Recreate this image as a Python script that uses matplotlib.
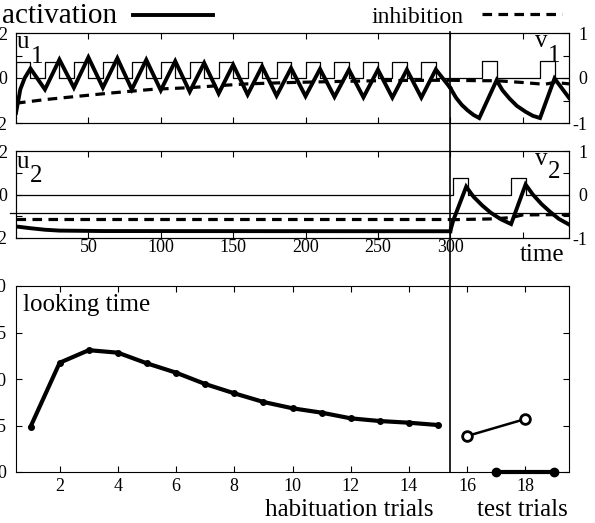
import matplotlib
matplotlib.use('Agg')
import matplotlib.pyplot as plt
from matplotlib.lines import Line2D

plt.rcParams['font.family'] = ['Liberation Serif', 'DejaVu Serif']
plt.rcParams['axes.unicode_minus'] = False

W, H = 595, 523

# ---- field 1: u1 during habituation (left scale), v1 during test (right scale)
stim1_on = [0, 20, 40, 60, 80, 100, 120, 140, 160, 180, 200, 220, 240, 260, 280]
stim1_test_on = [322, 362]
u1_t = [0, 3, 6, 10, 20, 30, 40, 50, 60, 70, 80, 90, 100, 110, 120, 130, 140,
        150, 160, 170, 180, 190, 200, 210, 220, 230, 240, 250, 260, 270, 280, 290, 300]
u1_v = [-1.55, -0.5, 0.0, 0.42, -0.51, 0.82, -0.43, 0.92, -0.43, 0.88, -0.51, 0.81,
        -0.55, 0.75, -0.61, 0.67, -0.69, 0.59, -0.74, 0.52, -0.79, 0.44, -0.81, 0.40,
        -0.84, 0.37, -0.86, 0.37, -0.87, 0.37, -0.87, 0.38, -0.44]
inh1_t = [0, 20, 40, 65, 95, 120, 140, 160, 190, 225, 260, 300]
inh1_v = [-1.12, -0.96, -0.83, -0.67, -0.50, -0.43, -0.34, -0.26, -0.20, -0.15, -0.11, -0.10]
v1_t = [300, 304, 308, 312, 316, 320, 332, 336, 341, 346, 352, 357, 362, 372, 382]
v1_v = [-0.22, -0.44, -0.60, -0.72, -0.82, -0.89, -0.05, -0.27, -0.46, -0.62,
        -0.75, -0.84, -0.89, -0.01, -0.44]
inhv1_t = [300, 320, 332, 350, 365, 372, 382]
inhv1_v = [-0.05, -0.06, -0.06, -0.10, -0.14, -0.10, -0.13]

# ---- field 2: u2 during habituation, v2 during test
u2_t = [0, 10, 20, 30, 60, 300]
u2_v = [-1.47, -1.55, -1.62, -1.66, -1.68, -1.69]
inh2_t = [0, 300]
inh2_v = [-1.14, -1.14]
stim2_test_on = [302, 342]
v2_t = [300, 302, 311, 316, 322, 328, 335, 342, 352, 357, 363, 369, 375, 382]
v2_v = [-0.84, -0.60, 0.18, -0.05, -0.25, -0.42, -0.57, -0.68, 0.23, 0.0, -0.22,
        -0.40, -0.56, -0.69]
inhv2_t = [300, 330, 342, 350, 382]
inhv2_v = [-0.58, -0.56, -0.53, -0.47, -0.46]

stim_len = 10
stim_left = 0.72
stim_right = 0.37

# ---- looking time
hab_trials = [1, 2, 3, 4, 5, 6, 7, 8, 9, 10, 11, 12, 13, 14, 15]
hab_look = [4.87, 11.75, 13.1, 12.83, 11.68, 10.68, 9.46, 8.46, 7.53, 6.85,
            6.38, 5.77, 5.48, 5.3, 5.05]
test_open_trials = [16, 18]
test_open_look = [3.87, 5.7]
test_fill_trials = [17, 19]
test_fill_look = [0, 0]


def pulses(onsets, length, level, t0, t1):
    t, v = [t0], [0]
    for s in onsets:
        t += [s, s, s + length, s + length]
        v += [0, level, level, 0]
    t.append(t1)
    v.append(0)
    return t, v


def box(top, bottom):
    return [16 / W, 1 - bottom / H, 553 / W, (bottom - top) / H]


def px(x, y):
    return x / W, 1 - y / H


fig = plt.figure(figsize=(W / 100, H / 100), dpi=100)

tick_kw = dict(direction='in', length=4, width=0.8, labelsize=13, colors='black')
time_ticks = [50, 100, 150, 200, 250, 300, 350]

axes_top = []
for top, bottom in [(33, 123), (151, 238)]:
    ax = fig.add_axes(box(top, bottom))
    ax.set_xlim(0, 382)
    ax.set_ylim(-2, 2)
    ax.set_xticks(time_ticks)
    ax.set_yticks([-2, -1, 0, 1, 2])
    ax.set_yticklabels(['-2', '', '0', '', '2'])
    ax.tick_params(top=True, bottom=True, left=True, right=False, pad=6, **tick_kw)
    axr = ax.twinx()
    axr.set_ylim(-1, 1)
    axr.set_yticks([-1, -0.5, 0, 0.5, 1])
    axr.set_yticklabels(['-1', '', '0', '', '1'])
    axr.tick_params(pad=13, **tick_kw)
    for lab in axr.get_yticklabels():
        lab.set_horizontalalignment('right')
    for a in (ax, axr):
        for s in a.spines.values():
            s.set_linewidth(0.8)
    axes_top.append((ax, axr))

(ax1, ax1r), (ax2, ax2r) = axes_top
ax1.set_xticklabels([])
ax2.set_xticklabels(['50', '100', '150', '200', '250', '300', ''])
ax2.tick_params(axis='x', pad=1)

thin = dict(color='black', lw=0.9)
thick = dict(color='black', lw=2.8, solid_joinstyle='miter')
dash = dict(color='black', lw=2.3, dashes=(3, 2))

# field 1
t, v = pulses(stim1_on, stim_len, stim_left, 0, 300)
ax1.plot(t, v, **thin)
t, v = pulses(stim1_test_on, stim_len, stim_right, 300, 382)
ax1r.plot(t, v, **thin)
ax1.plot(inh1_t, inh1_v, **dash)
ax1r.plot(inhv1_t, inhv1_v, **dash)
ax1.plot(u1_t, u1_v, **thick)
ax1r.plot(v1_t, v1_v, **thick)

# field 2
ax2.plot([0, 300], [0, 0], **thin)
t, v = pulses(stim2_test_on, stim_len, stim_right, 300, 382)
ax2r.plot(t, v, **thin)
ax2.axhline(-0.87, xmin=-0.011, xmax=1, color='black', lw=0.9, clip_on=False)
ax2.plot(inh2_t, inh2_v, **dash)
ax2r.plot(inhv2_t, inhv2_v, **dash)
ax2.plot(u2_t, u2_v, **thick)
ax2r.plot(v2_t, v2_v, **thick)

# looking time
ax3 = fig.add_axes(box(286, 472))
ax3.set_xlim(0.5, 19.5)
ax3.set_ylim(0, 20)
ax3.set_xticks([2, 4, 6, 8, 10, 12, 14, 16, 18])
ax3.set_yticks([0, 5, 10, 15, 20])
ax3.tick_params(top=True, bottom=True, left=True, right=True, labelright=False,
                pad=7, **tick_kw)
ax3.tick_params(axis='x', pad=4)
for s in ax3.spines.values():
    s.set_linewidth(0.8)
ax3.plot(hab_trials, hab_look, color='black', lw=3, marker='o', ms=4)
ax3.plot(test_open_trials, test_open_look, color='black', lw=1.8, marker='o',
         ms=7, mfc='white', mew=2)
ax3.plot(test_fill_trials, test_fill_look, color='black', lw=3, marker='o', ms=6,
         clip_on=False, zorder=5)

# separator between habituation and test phase
inv = fig.transFigure.inverted()
xsep = inv.transform(ax1.transData.transform((300, 0)))[0]
fig.add_artist(Line2D([xsep, xsep], [1 - 32 / H, 1 - 472 / H], color='black', lw=1.2))

# legend
fig.text(*px(2, 23), 'activation', fontsize=21, va='baseline')
fig.add_artist(Line2D([133 / W, 213 / W], [1 - 15 / H] * 2, color='black', lw=2.8))
fig.text(*px(372, 23), 'inhibition', fontsize=17, va='baseline')
fig.add_artist(Line2D([482 / W, 562 / W], [1 - 14 / H] * 2, color='black', lw=2.3,
                      dashes=(3, 2)))

# field labels
lab = dict(fontsize=18, va='baseline')
fig.text(*px(17, 48), 'u', **lab)
fig.text(*px(31, 63), '1', **lab)
fig.text(*px(535, 47), 'v', **lab)
fig.text(*px(548, 62), '1', **lab)
fig.text(*px(17, 168), 'u', **lab)
fig.text(*px(30, 182), '2', **lab)
fig.text(*px(535, 165), 'v', **lab)
fig.text(*px(548, 178), '2', **lab)

fig.text(*px(520, 261), 'time', fontsize=18, va='baseline')
fig.text(*px(23, 311), 'looking time', fontsize=18, va='baseline')
fig.text(*px(265, 516), 'habituation trials', fontsize=18, va='baseline')
fig.text(*px(477, 516), 'test trials', fontsize=18, va='baseline')

fig.savefig('out.png', dpi=100)
